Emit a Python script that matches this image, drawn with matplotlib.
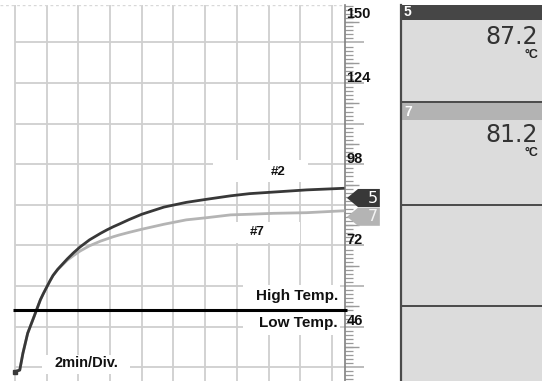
import matplotlib
matplotlib.use('Agg')
import matplotlib.pyplot as plt
import matplotlib.transforms as mtransforms
from matplotlib.patches import Rectangle, Polygon
from matplotlib.ticker import FixedLocator, NullFormatter
import numpy as np

# recorder traces, time in minutes, temperature in degC
time_min = [0, 0.3, 0.5, 0.8, 1.2, 1.4, 1.6, 1.8, 2.2, 2.4, 2.7, 3.3, 3.7, 4.1, 4.7,
            5.4, 5.8, 6.2, 6.6, 7.2, 8.0, 9.4, 10.8, 12.1, 13.6, 14.8, 16.3, 18.4, 20.7]
trace_2 = [31.6, 32.1, 37.5, 43.9, 49.2, 51.9, 54.6, 56.7, 60.6, 62.4, 64.4, 67.7, 69.7,
           71.5, 73.8, 75.9, 77.0, 78.0, 78.9, 80.3, 82.0, 84.3, 85.8, 86.8, 87.9, 88.6,
           89.1, 89.8, 90.3]
trace_7 = [31.6, 32.1, 37.5, 43.9, 49.2, 51.9, 54.6, 56.7, 60.6, 62.4, 64.3, 67.3, 68.8,
           70.2, 71.9, 73.4, 74.1, 74.8, 75.4, 76.2, 77.2, 78.8, 80.2, 80.9, 81.8, 82.0,
           82.3, 82.5, 83.1]

channels = ['5', '7']
readings = [87.2, 81.2]
alarm_level = 51.3
scale_labels = [150, 124, 98, 72, 46]

dark = '#383838'
light = '#b4b4b4'
grid_c = '#cfcfcf'
lab_font = ['Liberation Sans', 'DejaVu Sans']

fig = plt.figure(figsize=(5.42, 3.81), dpi=100)
fig.patch.set_facecolor('white')

# ---- trend area ----
ax = fig.add_axes([0, 0, 345 / 542, 376 / 381])
ax.set_xlim(-0.946, 20.82)
ax.set_ylim(28.61, 149.0)
for s in ['left', 'top', 'bottom']:
    ax.spines[s].set_visible(False)
ax.spines['right'].set_color('#808080')
ax.spines['right'].set_linewidth(1.2)
ax.set_xticks([])

major = np.arange(33, 150, 13)
minor = np.arange(33 - 3.9, 149, 1.3)
ax.yaxis.set_major_locator(FixedLocator(major))
ax.yaxis.set_minor_locator(FixedLocator(minor))
ax.yaxis.set_major_formatter(NullFormatter())
ax.yaxis.set_ticks_position('right')
ax.tick_params(axis='y', which='major', direction='out', length=13.7, width=1.1, color='#a8a8a8')
ax.tick_params(axis='y', which='minor', direction='out', length=5.8, width=0.9, color='#9a9a9a')

trans = mtransforms.blended_transform_factory(ax.transAxes, ax.transData)
mid = major + 6.5
ax.hlines(mid[mid < 149], 1.0, 1.0 + 14 / 345, transform=trans, color='#9a9a9a',
          lw=1.0, clip_on=False)

# grid
ax.vlines(np.arange(0, 21, 2), 28.61, 149.0, color=grid_c, lw=1.3, zorder=1)
ax.hlines(major, 0, 20.82, color=grid_c, lw=1.3, zorder=1)
ax.axhline(149.0, color='#d8d8d8', lw=1.0, ls=(0, (2, 2)), zorder=1)

# white label backgrounds
for (x0, x1, y0, y1) in [(12.49, 18.49, 92.3, 99.4), (13.3, 18.0, 72.9, 79.4),
                         (14.4, 20.5, 43.3, 59.2), (1.7, 7.26, 30.9, 36.9)]:
    ax.add_patch(Rectangle((x0, y0), x1 - x0, y1 - y0, facecolor='white',
                           edgecolor='none', zorder=2))

ax.plot(time_min, trace_7, color=light, lw=2.0, zorder=3, solid_joinstyle='round')
ax.plot(time_min, trace_2, color=dark, lw=2.0, zorder=4, solid_joinstyle='round')
ax.plot(time_min[0], trace_2[0], marker='s', ms=3.5, color=dark, zorder=4)

ax.hlines(alarm_level, -0.12, 20.95, color='black', lw=2.2, zorder=5, clip_on=False)

txt = dict(family=lab_font, fontweight='bold', color='#111111')
ax.text(16.6, 95.6, '#2', ha='center', va='center', fontsize=9.5, zorder=6, **txt)
ax.text(15.3, 76.3, '#7', ha='center', va='center', fontsize=9.5, zorder=6, **txt)
ax.text(20.4, 55.8, 'High Temp.', ha='right', va='center', fontsize=11, zorder=6, **txt)
ax.text(20.35, 47.3, 'Low Temp.', ha='right', va='center', fontsize=11, zorder=6, **txt)
ax.text(4.5, 34.3, '2min/Div.', ha='center', va='center', fontsize=10.5, zorder=6, **txt)

# scale numbers
for v in scale_labels:
    if v >= 149:
        ax.text(1.004, 0.995, str(v), transform=ax.transAxes, ha='left', va='top',
                fontsize=10.5, fontweight='bold', family=lab_font, color='#111111')
    else:
        ax.text(1.004, v + 0.4, str(v), transform=trans, ha='left', va='baseline',
                fontsize=10.5, fontweight='bold', family=lab_font, color='#111111')

# channel pointers at current readings
for ch, val, col, tcol in zip(channels, readings, [dark, light], ['white', '#f4f4f4']):
    h = 2.9
    pts = [(1.0058, val), (1.0377, val + h), (1.101, val + h), (1.101, val - h), (1.0377, val - h)]
    ax.add_patch(Polygon(pts, closed=True, transform=trans, facecolor=col,
                         edgecolor='none', clip_on=False, zorder=6))
    ax.text(1.08, val, ch, transform=trans, ha='center', va='center', fontsize=11.5,
            color=tcol, family=['DejaVu Sans'], zorder=7)

# ---- digital readout panel ----
px = fig.add_axes([401 / 542, 0, 141 / 542, 376 / 381])
px.set_xlim(0, 141)
px.set_ylim(376, 0)
px.set_facecolor('#dcdcdc')
px.set_xticks([])
px.set_yticks([])
for s in ['top', 'right', 'bottom']:
    px.spines[s].set_visible(False)
px.spines['left'].set_color('#4a4a4a')
px.spines['left'].set_linewidth(1.6)

header_top = [0, 98]
header_h = [15, 17]
header_col = ['#464646', '#b3b3b3']
for i, ch in enumerate(channels):
    px.add_patch(Rectangle((0, header_top[i]), 141, header_h[i], facecolor=header_col[i],
                           edgecolor='none'))
    px.text(3, header_top[i] + header_h[i] / 2, ch, ha='left', va='center', fontsize=10,
            fontweight='bold', color='white', family=lab_font)
    px.text(137, header_top[i] + 32, f'{readings[i]:.1f}', ha='right', va='center',
            fontsize=17, color='#333333', family=['DejaVu Sans'])
    px.text(137, header_top[i] + 50, '°C', ha='right', va='center', fontsize=9,
            color='#222222', family=lab_font, fontweight='bold')

for yl in [97, 200, 301]:
    px.axhline(yl, color='#4a4a4a', lw=1.4)

fig.savefig('out.png', dpi=100)
